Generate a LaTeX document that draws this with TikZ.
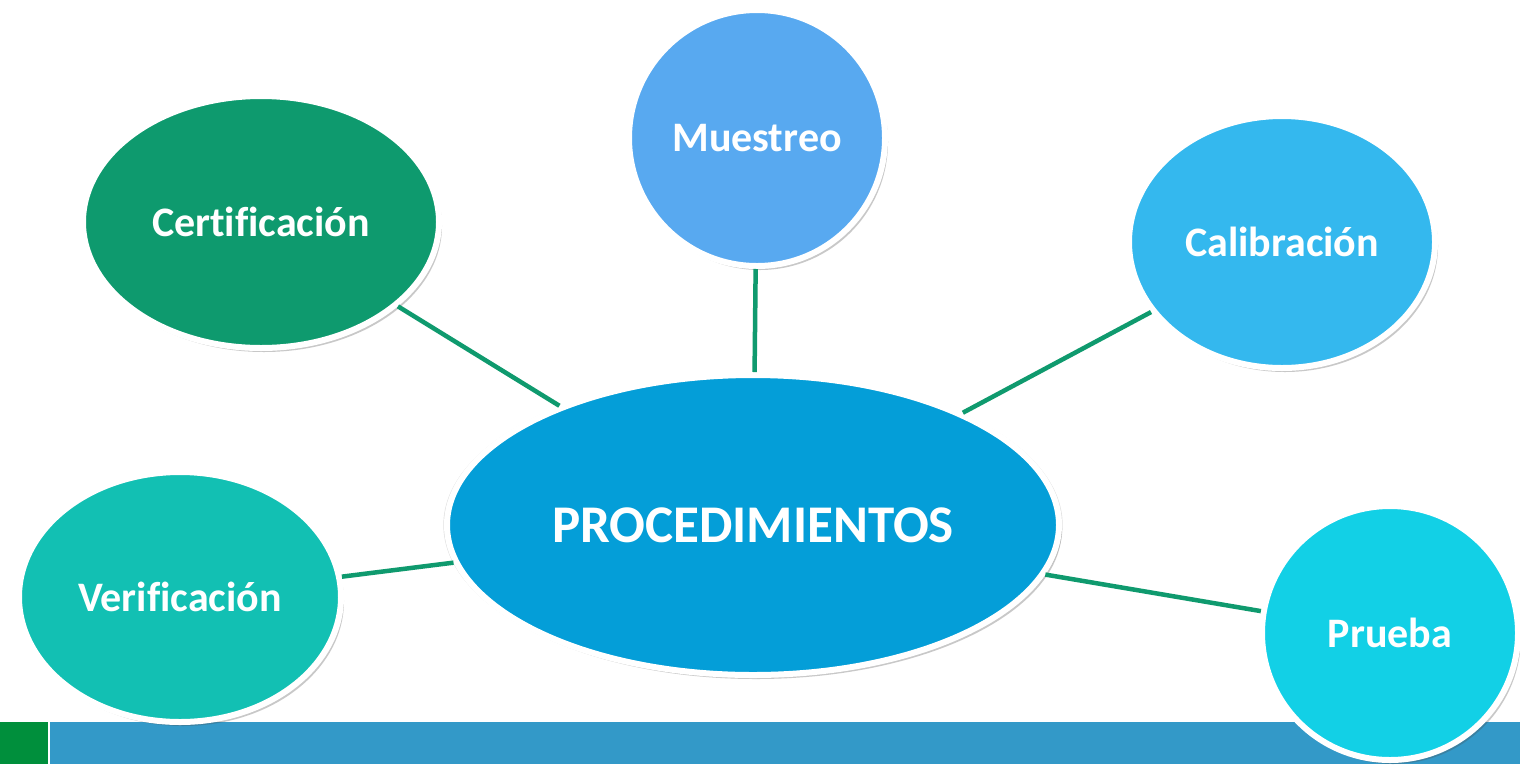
\documentclass[tikz,border=0pt]{standalone}
\usepackage{fontspec}
\setmainfont[Ligatures=NoCommon]{Carlito}
\usetikzlibrary{shapes.geometric,shadows}
\definecolor{cCert}{RGB}{14,154,110}
\definecolor{cMues}{RGB}{88,169,240}
\definecolor{cCal}{RGB}{52,184,238}
\definecolor{cVer}{RGB}{18,192,179}
\definecolor{cPru}{RGB}{18,208,230}
\definecolor{cProc}{RGB}{4,158,216}
\definecolor{cLine}{RGB}{15,154,110}
\definecolor{cBarG}{RGB}{0,143,60}
\definecolor{cBarB}{RGB}{51,153,200}
\tikzset{
  bub/.style={ellipse, draw=white, line width=6pt, inner sep=0pt,
    text=white, font=\bfseries\fontsize{42}{48}\selectfont,
    general shadow={shadow scale=1.012, opacity=0.12, fill=black},
    drop shadow={shadow xshift=3pt, shadow yshift=-4pt, opacity=0.3, fill=black!70}},
  link/.style={draw=cLine, line width=4.5pt}
}
\begin{document}
\begin{tikzpicture}[x=1pt,y=-1pt]
\useasboundingbox (0,0) rectangle (1520,764);
\fill[white] (0,0) rectangle (1520,764);
% bottom bar
\fill[cBarG] (0,722) rectangle (48,764);
\fill[cBarB] (50,722) rectangle (1520,764);
% nodes
\node[bub, fill=cProc, minimum width=612pt, minimum height=300pt,
  font=\bfseries\fontsize{53}{60}\selectfont] (proc) at (753,525) {PROCEDIMIENTOS};
\node[bub, fill=cCert, minimum width=356pt, minimum height=252pt] (cert) at (261,222) {Certificación};
\node[bub, fill=cMues, minimum width=256pt, minimum height=256pt] (mues) at (757,138) {Muestreo};
\node[bub, fill=cCal, minimum width=306pt, minimum height=252pt] (cal) at (1282,242) {Calibración};
\node[bub, fill=cVer, minimum width=322pt, minimum height=250pt] (ver) at (180,597) {Verificación};
\node[bub, fill=cPru, minimum width=256pt, minimum height=254pt] (pru) at (1390,633) {Prueba};
% connectors
\draw[link] (cert) -- (proc);
\draw[link] (mues) -- (proc);
\draw[link] (cal) -- (proc);
\draw[link] (ver) -- (proc);
\draw[link] (pru) -- (proc);
\end{tikzpicture}
\end{document}
